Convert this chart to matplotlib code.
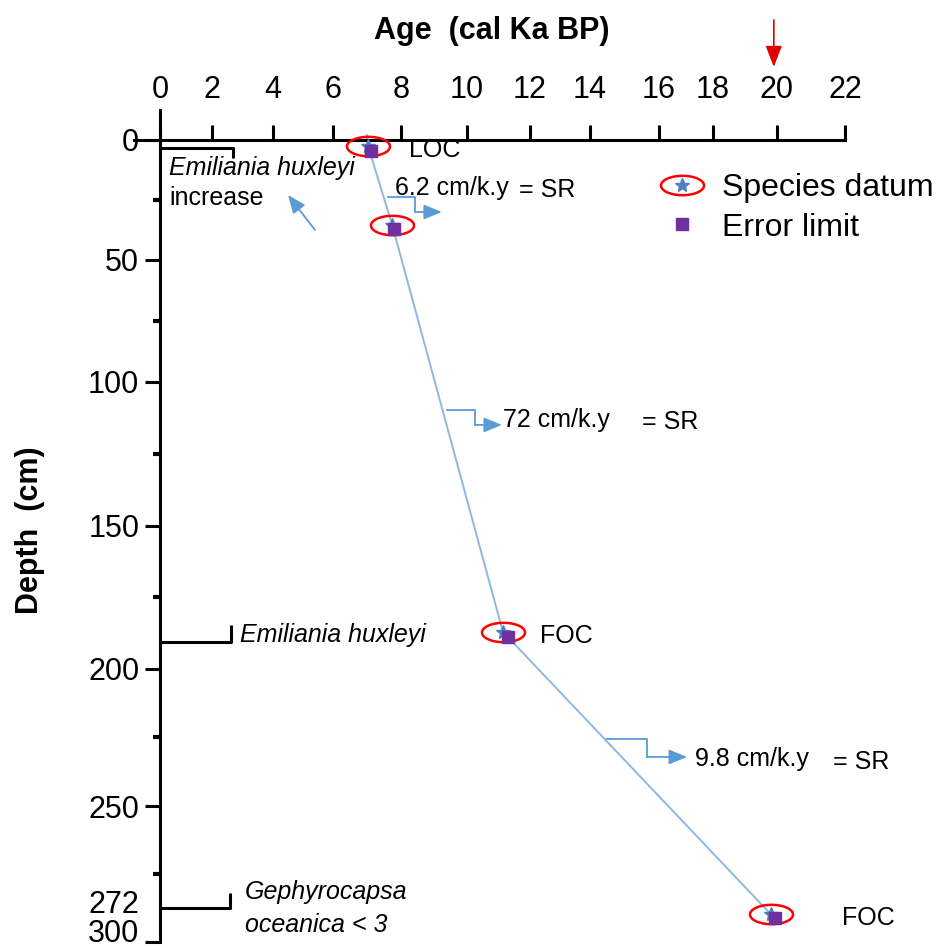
import numpy as np
import matplotlib.pyplot as plt
import matplotlib.transforms as mtransforms
from matplotlib.path import Path
from matplotlib.legend_handler import HandlerTuple

plt.rcParams['font.family'] = ['Liberation Sans', 'DejaVu Sans']

# datums (age in cal ka BP, depth in cm)
datum_age = [7.03, 7.74, 11.14, 19.8]
datum_depth = [2.5, 35.4, 187.0, 289.7]
error_age = [7.12, 7.8, 11.3, 19.94]
error_depth = [4.6, 37.0, 188.8, 291.2]
line_age = [7.0, 7.03, 7.74, 11.14, 19.8]
line_depth = [-2.0, 2.5, 35.4, 187.0, 289.7]
datum_names = ['LOC', '', 'FOC', 'FOC']
sed_rates = ['6.2 cm/k.y', '72 cm/k.y', '9.8 cm/k.y']

age_ticks = list(range(0, 23, 2))
depth_ticks = [0, 50, 100, 150, 200, 250, 286, 300]
depth_ticklabels = ['0', '50', '100', '150', '200', '250', '272', '300']
depth_minor = [25, 75, 125, 175, 225, 275]

# the original axes are not evenly spaced: calibrate them on the tick positions
age_knots = [-2, 0, 2, 4, 6, 8, 10, 12, 14, 16, 18, 20, 22, 24]
age_pix = [108, 160, 212, 273, 333, 401, 467, 530, 590, 659, 713, 777, 845, 913]
depth_knots = [-50, 0, 50, 100, 150, 200, 250, 300, 350]
depth_pix = [20, 140, 260, 382, 526, 669, 806, 942, 1078]

def age_fwd(a):
    return np.interp(a, age_knots, age_pix)

def age_inv(p):
    return np.interp(p, age_pix, age_knots)

def depth_fwd(d):
    return np.interp(d, depth_knots, depth_pix)

def depth_inv(p):
    return np.interp(p, depth_pix, depth_knots)

W, H = 936, 948
fig = plt.figure(figsize=(W / 100, H / 100), dpi=100)
ax = fig.add_axes([134 / W, 1 - 942 / H, 711 / W, 832 / H])
ax.set_xscale('function', functions=(age_fwd, age_inv))
ax.set_yscale('function', functions=(depth_fwd, depth_inv))
ax.set_xlim(-1, 22)
ax.set_ylim(300, -12.5)

blue = '#5b9bd5'
t = np.linspace(0, 2 * np.pi, 80)
ellipse = Path(np.column_stack([np.cos(t), 0.45 * np.sin(t)]), closed=True)

ax.plot(line_age, line_depth, color='#8fb8e0', lw=1.4, zorder=2)
ell, = ax.plot(datum_age, datum_depth, ls='none', marker=ellipse, ms=31,
               mfc='none', mec='#ff0000', mew=1.8, zorder=3)
star, = ax.plot(datum_age, datum_depth, ls='none', marker='*', ms=10,
                color='#4f81bd', zorder=4)
sq, = ax.plot(error_age, error_depth, ls='none', marker='s', ms=8.5,
              color='#7030a0', zorder=5)

for a, d, name in zip(datum_age, datum_depth, datum_names):
    if name:
        ax.text(a + 1.2 + (0.9 if a > 15 else 0), d + 1.5, name, fontsize=18,
                va='center', ha='left')

# sedimentation-rate elbow arrows
sr_paths = [
    ([7.62, 8.42, 8.42, 9.24], [23.75, 23.75, 30.0, 30.0]),
    ([9.39, 10.25, 10.25, 11.11], [109.7, 109.7, 114.9, 114.9]),
    ([14.49, 15.65, 15.65, 17.04], [225.5, 225.5, 232.1, 232.1]),
]
sr_text = [(7.82, 20.0, 11.65), (11.14, 113.2, 15.5), (17.33, 233.0, 21.65)]
for (xs, ys), (tx, ty, sx), label in zip(sr_paths, sr_text, sed_rates):
    ax.plot(xs[:-1], ys[:-1], color=blue, lw=1.3)
    ax.annotate('', xy=(xs[-1], ys[-1]), xytext=(xs[-2], ys[-2]),
                arrowprops=dict(arrowstyle='-|>,head_length=1.1,head_width=0.45',
                                color=blue, lw=1.3, shrinkA=0, shrinkB=0))
    ax.text(tx, ty, label, fontsize=18, va='center', ha='left')
    ax.text(sx, ty + 0.8, '= SR', fontsize=18, va='center', ha='left')

ax.annotate('', xy=(4.5, 22.9), xytext=(5.4, 37.5),
            arrowprops=dict(arrowstyle='-|>,head_length=1.1,head_width=0.45',
                            color=blue, lw=1.3, shrinkA=0, shrinkB=0))

# biozone brackets
brackets = [([0, 2.69, 2.69], [3.3, 3.3, 7.5]),
            ([0, 2.62, 2.62], [190.6, 190.6, 184.6]),
            ([0, 2.6, 2.6], [287.5, 287.5, 282.0])]
for xs, ys in brackets:
    ax.plot(xs, ys, color='black', lw=2.2, solid_capstyle='butt')

ax.text(0.35, 11.5, 'Emiliania huxleyi', fontsize=18, style='italic', va='center')
ax.text(0.35, 24.2, 'increase', fontsize=18, va='center')
ax.text(2.92, 188.1, 'Emiliania huxleyi', fontsize=18, style='italic', va='center')
ax.text(3.08, 281.6, 'Gephyrocapsa', fontsize=18, style='italic', va='center')
ax.text(3.08, 293.7, 'oceanica < 3', fontsize=18, style='italic', va='center')

ax.annotate('', xy=(19.9, 1 - 67 / H), xytext=(19.9, 1 - 20 / H),
            xycoords=('data', 'figure fraction'),
            arrowprops=dict(arrowstyle='-|>,head_length=1.3,head_width=0.5',
                            color='#e00000', lw=1.2, shrinkA=0, shrinkB=0))

# axes
for s in ['right', 'bottom']:
    ax.spines[s].set_visible(False)
ax.spines['left'].set_position(('data', 0))
ax.spines['top'].set_position(('data', 0))
for s in ['left', 'top']:
    ax.spines[s].set_linewidth(2.2)

ax.set_xticks(age_ticks)
ax.set_xticklabels([str(v) for v in age_ticks])
ax.set_yticks(depth_ticks)
ax.set_yticklabels(depth_ticklabels)
ax.set_yticks(depth_minor, minor=True)
ax.xaxis.set_minor_locator(plt.NullLocator())
ax.tick_params(axis='x', which='major', direction='out', length=11, width=2.2,
               pad=14, labelsize=22, top=True, bottom=False,
               labeltop=True, labelbottom=False)
ax.tick_params(axis='y', which='major', direction='out', length=11, width=2.2,
               pad=4, labelsize=22)
ax.tick_params(axis='y', which='minor', direction='out', length=5, width=3)
ax.yaxis.get_major_ticks()[6].tick1line.set_visible(False)

# the last two depth labels sit squeezed together near the bottom edge
lab272 = ax.get_yticklabels()[6]
lab272.set_transform(lab272.get_transform() +
                     mtransforms.ScaledTranslation(0, 1.5 / 72, fig.dpi_scale_trans))
lab300 = ax.get_yticklabels()[7]
lab300.set_transform(lab300.get_transform() +
                     mtransforms.ScaledTranslation(0, 8 / 72, fig.dpi_scale_trans))

ax.xaxis.set_label_position('top')
ax.set_xlabel('Age  (cal Ka BP)', fontsize=22, fontweight='bold')
ax.xaxis.label.set_va('center')
ax.xaxis.set_label_coords((492 - 134) / 711, (942 - 31) / 832)
ax.set_ylabel('Depth  (cm)', fontsize=22, fontweight='bold')
ax.yaxis.label.set_va('center')
ax.yaxis.set_label_coords((30 - 134) / 711, (942 - 530) / 832)

ax.legend([(ell, star), sq], ['Species datum', 'Error limit'],
          handler_map={tuple: HandlerTuple(ndivide=1)}, frameon=False,
          fontsize=23, loc='upper left', bbox_to_anchor=(652 / W, 1 - 173 / H),
          bbox_transform=fig.transFigure, handlelength=1.9, handletextpad=0.3,
          labelspacing=0.3, borderpad=0, borderaxespad=0, markerscale=1.0)

fig.savefig('out.png', dpi=100)
